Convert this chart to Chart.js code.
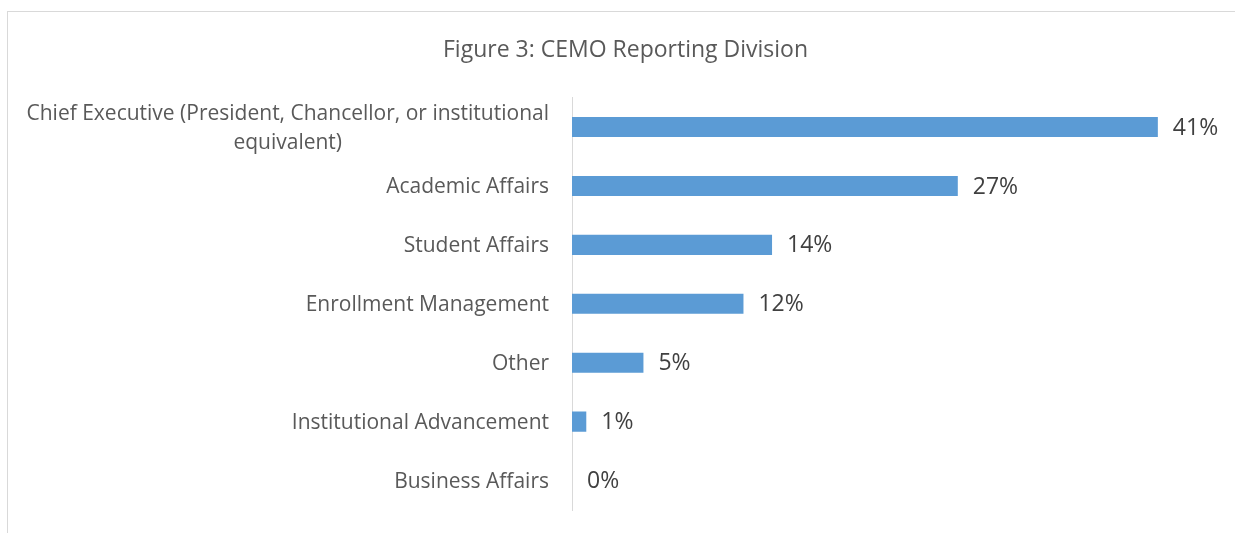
<!DOCTYPE html>
<html>
<head>
<meta charset="utf-8">
<script src="https://cdn.jsdelivr.net/npm/chart.js@4.4.1/dist/chart.umd.min.js"></script>
<style>
  html, body { margin: 0; padding: 0; background: #fff; overflow: hidden; }
  #frame {
    position: absolute; left: 7px; top: 11px;
    width: 1300px; height: 600px;
    border: 1px solid #d9d9d9;
  }
  #wrap { position: absolute; left: 0; top: 0; width: 1235px; height: 533px; }
</style>
</head>
<body>
<div id="frame"></div>
<div id="wrap"><canvas id="barChart"></canvas></div>
<script>
var categories = [
    ['Chief Executive (President, Chancellor, or institutional', 'equivalent)'],
    'Academic Affairs',
    'Student Affairs',
    'Enrollment Management',
    'Other',
    'Institutional Advancement',
    'Business Affairs'
]
var shares = [41, 27, 14, 12, 5, 1, 0]
var FONT = '"Open Sans", Lato, sans-serif'

// category labels: right aligned block, lines centred inside it (like Excel)
var categoryLabels = {
    id: 'categoryLabels',
    afterDraw: function(chart) {
        var ctx = chart.ctx
        var yScale = chart.scales.y
        var right = chart.chartArea.left - 23
        ctx.save()
        ctx.font = '21px ' + FONT
        ctx.fillStyle = '#595959'
        ctx.textBaseline = 'middle'
        ctx.textAlign = 'center'
        categories.forEach(function(label, i) {
            var lines = [].concat(label)
            var widest = Math.max.apply(null, lines.map(function(l) { return ctx.measureText(l).width }))
            var cx = right - widest / 2
            var lh = 29
            var y0 = yScale.getPixelForTick(i) + 1 - (lines.length - 1) * lh / 2
            lines.forEach(function(l, k) { ctx.fillText(l, cx, y0 + k * lh) })
        })
        ctx.restore()
    }
}

var valueLabels = {
    id: 'valueLabels',
    afterDatasetsDraw: function(chart) {
        var ctx = chart.ctx
        var meta = chart.getDatasetMeta(0)
        ctx.save()
        ctx.font = '23px ' + FONT
        ctx.fillStyle = '#404040'
        ctx.textBaseline = 'middle'
        ctx.textAlign = 'left'
        meta.data.forEach(function(bar, i) {
            ctx.fillText(shares[i] + '%', bar.x + 15, bar.y + 1)
        })
        ctx.restore()
    }
}

var barCanvas = document.getElementById('barChart').getContext('2d')
var barChart = new Chart(barCanvas, {
    type: 'bar',
    data: {
        labels: categories,
        datasets: [{
            data: shares,
            backgroundColor: '#5b9bd5',
            borderWidth: 0,
            categoryPercentage: 1,
            barPercentage: 0.34
        }]
    },
    options: {
        indexAxis: 'y',
        responsive: true,
        maintainAspectRatio: false,
        animation: false,
        layout: { padding: { left: 36, right: 20, top: 0, bottom: 23 } },
        plugins: {
            legend: { display: false },
            tooltip: { enabled: false },
            title: {
                display: true,
                text: 'Figure 3: CEMO Reporting Division',
                color: '#595959',
                font: { family: FONT, size: 23, weight: 'normal' },
                padding: { top: 37, bottom: 33 }
            }
        },
        scales: {
            x: { display: false, min: 0, max: 45 },
            y: {
                grid: { display: false },
                border: { display: true, color: '#d9d9d9', width: 1 },
                ticks: { display: false },
                afterFit: function(scale) { scale.width = 536 }
            }
        }
    },
    plugins: [categoryLabels, valueLabels]
})
</script>
</body>
</html>
